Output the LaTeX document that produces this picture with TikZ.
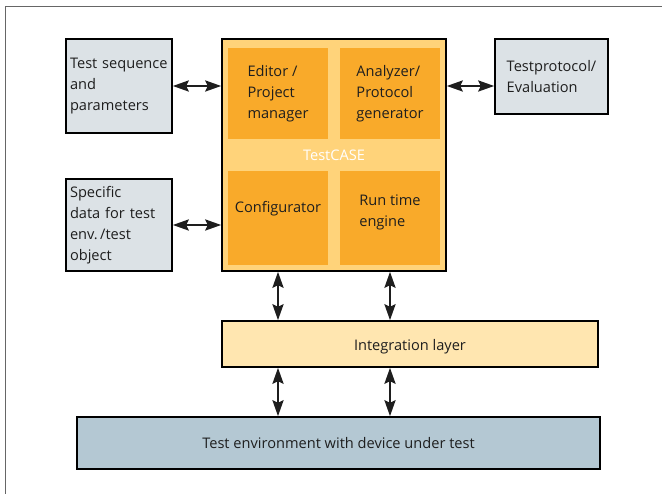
\documentclass[tikz,border=0pt]{standalone}
\usepackage{fontspec}
\setmainfont{Open Sans}
\usetikzlibrary{arrows.meta}
\definecolor{boxgrey}{HTML}{DCE2E6}
\definecolor{caseback}{HTML}{FFD37A}
\definecolor{casepart}{HTML}{F9AA2A}
\definecolor{layerfill}{HTML}{FFE6B0}
\definecolor{envfill}{HTML}{B4C8D3}
\definecolor{inkgrey}{HTML}{1E1E1E}

\begin{document}
\begin{tikzpicture}[x=1pt,y=-1pt,
  every node/.style={font=\fontsize{14.6}{20.8}\selectfont, text=inkgrey},
  greybox/.style={draw, line width=1.5pt, fill=boxgrey, align=left, inner sep=0pt},
  casebox/.style={draw, line width=1.5pt, fill=caseback, inner sep=0pt},
  casepart/.style={fill=casepart, align=left, inner sep=0pt, minimum width=100pt},
  layerbox/.style={draw, line width=1.5pt, inner sep=0pt},
  link/.style={<->, >={Stealth[length=16pt,width=11pt,inset=2.5pt]}, line width=2.5pt, draw=inkgrey}]
\useasboundingbox (0,0) rectangle (662,494);
\draw[draw=black!60, line width=1pt] (5.5,494) -- (5.5,7) -- (662,7);

\node[greybox, text width=98pt, minimum width=106pt, minimum height=94pt] (seqbox) at (119,86) {Test sequence\\and\\parameters};
\node[greybox, text width=98pt, minimum width=106pt, minimum height=92pt] (specbox) at (119,225) {Specific\\data for test\\env.\,/test\\object};
\node[greybox, minimum width=113pt, minimum height=75pt] (protbox) at (551.5,76.5) {Testprotocol/\\Evaluation};

\node[casebox, text=white, minimum width=224pt, minimum height=232pt] (testcase) at (334,155) {TestCASE};
\node[casepart, minimum height=91pt] (editor) at (278,93.5) {Editor /\\Project\\manager};
\node[casepart, minimum height=91pt] (analyzer) at (390,93.5) {Analyzer/\\Protocol\\generator};
\node[casepart, minimum height=94pt, text depth=22pt] (config) at (278,218) {Configurator};
\node[casepart, minimum height=94pt, text depth=14pt] (runtime) at (390,218) {Run time\\engine};

\node[layerbox, fill=layerfill, minimum width=376pt, minimum height=46pt, text height=18pt, text depth=4pt] (integ) at (410,344) {Integration layer};
\node[layerbox, fill=envfill, minimum width=523pt, minimum height=52pt] (testenv) at (338.5,443) {Test environment with device under test};

\draw[link] (seqbox.east) -- (seqbox.east -| testcase.west);
\draw[link] (specbox.east) -- (specbox.east -| testcase.west);
\draw[link] (seqbox.east -| testcase.east) -- (seqbox.east -| protbox.west);
\draw[link] (editor |- testcase.south) -- (editor |- integ.north);
\draw[link] (analyzer |- testcase.south) -- (analyzer |- integ.north);
\draw[link] (editor |- integ.south) -- (editor |- testenv.north);
\draw[link] (analyzer |- integ.south) -- (analyzer |- testenv.north);
\end{tikzpicture}
\end{document}
